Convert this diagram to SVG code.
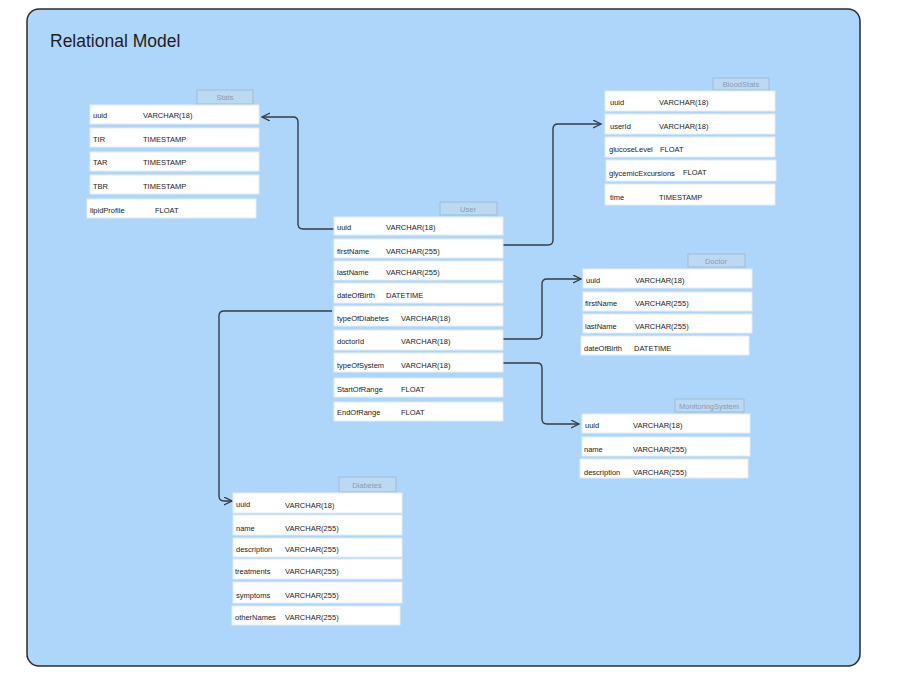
<svg xmlns="http://www.w3.org/2000/svg" width="900" height="676" viewBox="0 0 900 676">
<style>
text{font-family:"Liberation Sans","DejaVu Sans",sans-serif;}
.bg{fill:#aed6fa;stroke:#2b2b2b;stroke-width:1.5;}
.title{font-size:17.5px;fill:#1e1e1e;}
.row{fill:#ffffff;stroke:#e4ecf3;stroke-width:1;}
.tab{fill:#bcd9f2;stroke:#9fb4c8;stroke-width:0.8;}
.tabt{font-size:7.5px;fill:#8b9cb0;text-anchor:middle;}
.t{font-size:7.5px;fill:#222222;}
.conn{fill:none;stroke:#353c44;stroke-width:1.4;}
</style>
<defs>
<marker id="arr" markerWidth="10" markerHeight="10" refX="8" refY="4" orient="auto" markerUnits="userSpaceOnUse">
<path d="M0,0 L8,4 L0,8" fill="none" stroke="#353c44" stroke-width="1.3"/>
</marker>
</defs>
<rect class="bg" x="27" y="9" width="833" height="657" rx="12"/>
<text class="title" x="50" y="47">Relational Model</text>

<g id="connectors">
<path class="conn" d="M334,229 H303 Q298,229 298,224 V122 Q298,117 293,117 H262" marker-end="url(#arr)"/>
<path class="conn" d="M494,245 H548 Q553,245 553,240 V129 Q553,124 558,124 H601" marker-end="url(#arr)"/>
<path class="conn" d="M503,339 H537 Q542,339 542,334 V284 Q542,279 547,279 H581" marker-end="url(#arr)"/>
<path class="conn" d="M503,363 H537 Q542,363 542,368 V419 Q542,424 547,424 H579" marker-end="url(#arr)"/>
<path class="conn" d="M332,311 H224 Q219,311 219,316 V496 Q219,501 224,501 H232" marker-end="url(#arr)"/>
</g>

<g id="stats">
<rect class="tab" x="197" y="90" width="56" height="14"/>
<text class="tabt" x="225" y="100">Stats</text>
<rect class="row" x="90" y="105" width="169" height="19"/>
<text class="t" x="93" y="118">uuid</text><text class="t" x="143" y="118">VARCHAR(18)</text>
<rect class="row" x="90" y="128" width="169" height="19"/>
<text class="t" x="93" y="142">TIR</text><text class="t" x="143" y="142">TIMESTAMP</text>
<rect class="row" x="90" y="152" width="169" height="19"/>
<text class="t" x="93" y="165">TAR</text><text class="t" x="143" y="165">TIMESTAMP</text>
<rect class="row" x="90" y="175" width="169" height="19"/>
<text class="t" x="93" y="189">TBR</text><text class="t" x="143" y="189">TIMESTAMP</text>
<rect class="row" x="87" y="199" width="169" height="19"/>
<text class="t" x="90" y="213">lipidProfile</text><text class="t" x="155" y="213">FLOAT</text>
</g>

<g id="bloodstats">
<rect class="tab" x="713" y="78" width="56" height="12"/>
<text class="tabt" x="741" y="87">BloodStats</text>
<rect class="row" x="605" y="91" width="170" height="20"/>
<text class="t" x="610" y="105">uuid</text><text class="t" x="659" y="105">VARCHAR(18)</text>
<rect class="row" x="605" y="114" width="170" height="20"/>
<text class="t" x="610" y="129">userId</text><text class="t" x="659" y="129">VARCHAR(18)</text>
<rect class="row" x="605" y="137" width="170" height="20"/>
<text class="t" x="609" y="152">glucoseLevel</text><text class="t" x="660" y="152">FLOAT</text>
<rect class="row" x="606" y="160" width="170" height="21"/>
<text class="t" x="609" y="176">glycemicExcursions</text><text class="t" x="683" y="175">FLOAT</text>
<rect class="row" x="605" y="184" width="170" height="21"/>
<text class="t" x="610" y="200">time</text><text class="t" x="659" y="200">TIMESTAMP</text>
</g>

<g id="user">
<rect class="tab" x="440" y="202" width="57" height="13"/>
<text class="tabt" x="468" y="212">User</text>
<rect class="row" x="334" y="217" width="169" height="18"/>
<text class="t" x="337" y="230">uuid</text><text class="t" x="386" y="230">VARCHAR(18)</text>
<rect class="row" x="334" y="239" width="169" height="19"/>
<text class="t" x="337" y="254">firstName</text><text class="t" x="386" y="254">VARCHAR(255)</text>
<rect class="row" x="334" y="261" width="169" height="19"/>
<text class="t" x="337" y="275">lastName</text><text class="t" x="386" y="275">VARCHAR(255)</text>
<rect class="row" x="334" y="283" width="169" height="20"/>
<text class="t" x="337" y="298">dateOfBirth</text><text class="t" x="386" y="298">DATETIME</text>
<rect class="row" x="334" y="306" width="169" height="20"/>
<text class="t" x="337" y="321">typeOfDiabetes</text><text class="t" x="401" y="321">VARCHAR(18)</text>
<rect class="row" x="334" y="330" width="169" height="20"/>
<text class="t" x="337" y="344">doctorId</text><text class="t" x="401" y="344">VARCHAR(18)</text>
<rect class="row" x="334" y="353" width="169" height="19"/>
<text class="t" x="337" y="368">typeOfSystem</text><text class="t" x="401" y="368">VARCHAR(18)</text>
<rect class="row" x="334" y="378" width="169" height="19"/>
<text class="t" x="337" y="392">StartOfRange</text><text class="t" x="401" y="392">FLOAT</text>
<rect class="row" x="334" y="402" width="169" height="19"/>
<text class="t" x="337" y="415">EndOfRange</text><text class="t" x="401" y="415">FLOAT</text>
</g>

<g id="doctor">
<rect class="tab" x="688" y="254" width="57" height="13"/>
<text class="tabt" x="716" y="264">Doctor</text>
<rect class="row" x="583" y="269" width="169" height="19"/>
<text class="t" x="586" y="283">uuid</text><text class="t" x="635" y="283">VARCHAR(18)</text>
<rect class="row" x="583" y="292" width="169" height="19"/>
<text class="t" x="585" y="306">firstName</text><text class="t" x="635" y="306">VARCHAR(255)</text>
<rect class="row" x="583" y="314" width="169" height="19"/>
<text class="t" x="585" y="329">lastName</text><text class="t" x="635" y="329">VARCHAR(255)</text>
<rect class="row" x="581" y="336" width="168" height="19"/>
<text class="t" x="584" y="351">dateOfBirth</text><text class="t" x="634" y="351">DATETIME</text>
</g>

<g id="monitoringsystem">
<rect class="tab" x="675" y="399" width="69" height="13"/>
<text class="tabt" x="709" y="409">MonitoringSystem</text>
<rect class="row" x="582" y="414" width="168" height="19"/>
<text class="t" x="585" y="428">uuid</text><text class="t" x="633" y="428">VARCHAR(18)</text>
<rect class="row" x="582" y="437" width="168" height="19"/>
<text class="t" x="584" y="452">name</text><text class="t" x="633" y="452">VARCHAR(255)</text>
<rect class="row" x="580" y="459" width="168" height="19"/>
<text class="t" x="584" y="475">description</text><text class="t" x="633" y="475">VARCHAR(255)</text>
</g>

<g id="diabetes">
<rect class="tab" x="339" y="477" width="57" height="15"/>
<text class="tabt" x="367" y="488">Diabetes</text>
<rect class="row" x="233" y="493" width="169" height="20"/>
<text class="t" x="236" y="507">uuid</text><text class="t" x="285" y="508">VARCHAR(18)</text>
<rect class="row" x="233" y="515" width="169" height="20"/>
<text class="t" x="236" y="531">name</text><text class="t" x="285" y="531">VARCHAR(255)</text>
<rect class="row" x="233" y="538" width="169" height="19"/>
<text class="t" x="236" y="552">description</text><text class="t" x="285" y="552">VARCHAR(255)</text>
<rect class="row" x="233" y="559" width="169" height="20"/>
<text class="t" x="235" y="574">treatments</text><text class="t" x="285" y="574">VARCHAR(255)</text>
<rect class="row" x="233" y="582" width="169" height="21"/>
<text class="t" x="236" y="598">symptoms</text><text class="t" x="285" y="598">VARCHAR(255)</text>
<rect class="row" x="232" y="606" width="168" height="19"/>
<text class="t" x="235" y="620">otherNames</text><text class="t" x="285" y="620">VARCHAR(255)</text>
</g>
</svg>
